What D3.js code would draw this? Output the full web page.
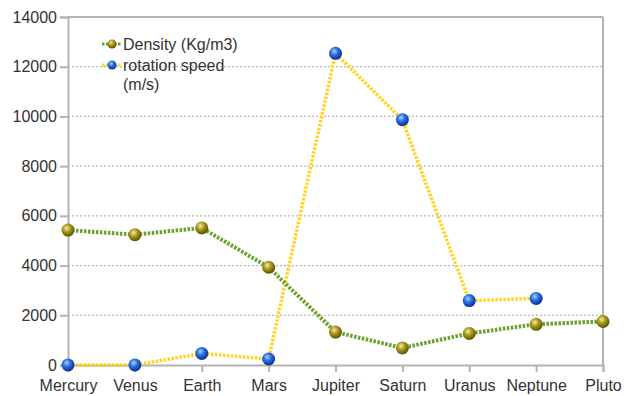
<!DOCTYPE html>
<html>
<head>
<meta charset="utf-8">
<script src="https://cdn.jsdelivr.net/npm/d3@7"></script>
<style>
  body { margin: 0; background: #fff; }
  text { font-family: "Liberation Sans", Arial, sans-serif; }
</style>
</head>
<body>
<div id="chart"></div>
<script>
const planets = ['Mercury', 'Venus', 'Earth', 'Mars', 'Jupiter', 'Saturn', 'Uranus', 'Neptune', 'Pluto'];
const density = [5427, 5243, 5515, 3933, 1326, 687, 1270, 1638, 1750];
const rotation = [3, 2, 465, 241, 12540, 9870, 2590, 2680, null];
const yTicks = [0, 2000, 4000, 6000, 8000, 10000, 12000, 14000];
const seriesNames = ['Density (Kg/m3)', 'rotation speed'];

const width = 632, height = 396;
const plotLeft = 68, plotRight = 603, plotTop = 17, plotBottom = 365;

const svg = d3.select('#chart').append('svg')
    .attr('width', width)
    .attr('height', height);

const defs = svg.append('defs');

// sphere-like gradients for the markers
function sphere(id, light, mid, dark) {
    const g = defs.append('radialGradient')
        .attr('id', id)
        .attr('cx', '40%').attr('cy', '35%').attr('r', '65%');
    g.append('stop').attr('offset', '0%').attr('stop-color', light);
    g.append('stop').attr('offset', '45%').attr('stop-color', mid);
    g.append('stop').attr('offset', '100%').attr('stop-color', dark);
}
sphere('gold', '#f4ecb0', '#a89a1c', '#5e5200');
sphere('blue', '#a8d0ff', '#2a6fe0', '#0a2f8c');

const x = d3.scalePoint().domain(planets).range([plotLeft, plotRight]);
const y = d3.scaleLinear().domain([0, 14000]).range([plotBottom, plotTop]);

// gridlines
svg.append('g')
    .selectAll('line')
    .data(yTicks.filter(d => d > 0 && d < 14000))
    .join('line')
    .attr('x1', plotLeft).attr('x2', plotRight)
    .attr('y1', d => y(d)).attr('y2', d => y(d))
    .attr('stroke', '#b8b8b8')
    .attr('stroke-width', 1.3)
    .attr('stroke-dasharray', '2,2');

// frame: top and right
svg.append('line')
    .attr('x1', plotLeft).attr('x2', plotRight)
    .attr('y1', y(14000)).attr('y2', y(14000))
    .attr('stroke', '#b3b3b3').attr('stroke-width', 2);
svg.append('line')
    .attr('x1', plotRight).attr('x2', plotRight)
    .attr('y1', y(14000)).attr('y2', plotBottom)
    .attr('stroke', '#b3b3b3').attr('stroke-width', 2);

// y axis
const yAxis = svg.append('g')
    .attr('transform', `translate(${plotLeft},0)`)
    .call(d3.axisLeft(y).tickValues(yTicks).tickSize(8).tickPadding(3).tickFormat(d3.format('d')));
yAxis.select('.domain').attr('stroke', '#b3b3b3').attr('stroke-width', 2);
yAxis.selectAll('.tick line').attr('stroke', '#b3b3b3').attr('stroke-width', 2);
yAxis.selectAll('.tick text')
    .attr('font-size', 16)
    .attr('fill', '#333')
    .style('font-family', '"Liberation Sans", Arial, sans-serif');

// x axis
const xAxis = svg.append('g')
    .attr('transform', `translate(0,${plotBottom})`)
    .call(d3.axisBottom(x).tickSize(7).tickPadding(8));
xAxis.select('.domain').attr('stroke', '#b3b3b3').attr('stroke-width', 2);
xAxis.selectAll('.tick line').attr('stroke', '#b3b3b3').attr('stroke-width', 2);
xAxis.selectAll('.tick text')
    .attr('font-size', 16)
    .attr('fill', '#333')
    .style('font-family', '"Liberation Sans", Arial, sans-serif');

// series lines
const densityLine = d3.line()
    .x((d, i) => x(planets[i]))
    .y(d => y(d));
const rotationLine = d3.line()
    .defined(d => d !== null)
    .x((d, i) => x(planets[i]))
    .y(d => y(d));

svg.append('path')
    .attr('d', rotationLine(rotation))
    .attr('fill', 'none')
    .attr('stroke', '#ffd320')
    .attr('stroke-width', 3.5)
    .attr('stroke-dasharray', '2.5,1.5');

svg.append('path')
    .attr('d', densityLine(density))
    .attr('fill', 'none')
    .attr('stroke', '#6aa329')
    .attr('stroke-width', 4)
    .attr('stroke-dasharray', '2.5,1.5');

// markers
svg.append('g')
    .selectAll('circle')
    .data(density)
    .join('circle')
    .attr('cx', (d, i) => x(planets[i]))
    .attr('cy', d => y(d))
    .attr('r', 6.5)
    .attr('fill', 'url(#gold)');

svg.append('g')
    .selectAll('circle')
    .data(rotation.map((v, i) => ({ v, i })).filter(d => d.v !== null))
    .join('circle')
    .attr('cx', d => x(planets[d.i]))
    .attr('cy', d => y(d.v))
    .attr('r', 6.5)
    .attr('fill', 'url(#blue)');

// legend
const legend = svg.append('g');
const legendItems = [
    { name: seriesNames[0], color: '#6aa329', fill: 'url(#gold)', y: 44 },
    { name: seriesNames[1], color: '#ffd320', fill: 'url(#blue)', y: 65 }
];
legendItems.forEach(item => {
    legend.append('line')
        .attr('x1', 102).attr('x2', 121)
        .attr('y1', item.y).attr('y2', item.y)
        .attr('stroke', item.color)
        .attr('stroke-width', 3)
        .attr('stroke-dasharray', '2.5,1.5');
    legend.append('circle')
        .attr('cx', 112).attr('cy', item.y)
        .attr('r', 4.5)
        .attr('fill', item.fill);
});
legend.append('text')
    .attr('x', 123).attr('y', 50)
    .attr('font-size', 16).attr('fill', '#333')
    .text(seriesNames[0]);
const rt = legend.append('text')
    .attr('x', 123).attr('y', 71)
    .attr('font-size', 16).attr('fill', '#333');
rt.append('tspan').attr('x', 123).text(seriesNames[1]);
rt.append('tspan').attr('x', 123).attr('dy', 19).text('(m/s)');
</script>
</body>
</html>
